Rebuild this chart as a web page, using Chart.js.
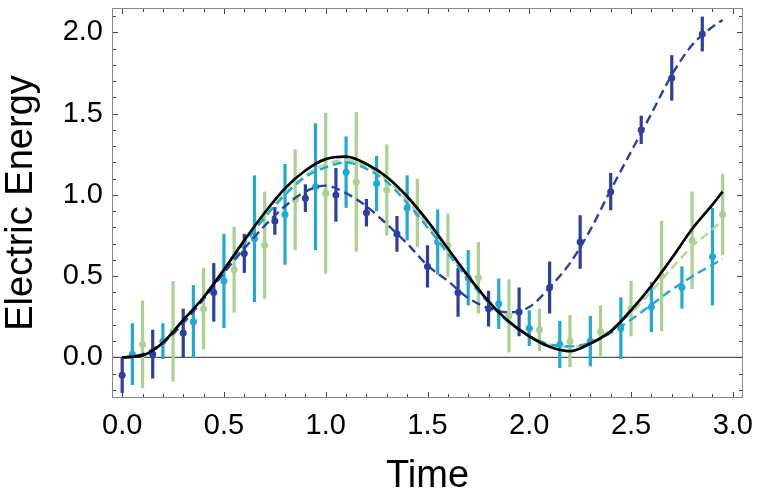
<!DOCTYPE html>
<html>
<head>
<meta charset="utf-8">
<script src="https://cdn.jsdelivr.net/npm/chart.js@4.4.1/dist/chart.umd.min.js"></script>
<style>
  html, body { margin: 0; padding: 0; background: #fff; }
</style>
</head>
<body>
<canvas id="energyChart" width="758" height="497"></canvas>
<script>
// measured points (three runs), each with its error half-width
const blueX = [0, 0.15, 0.3, 0.45, 0.6, 0.75, 0.9, 1.05, 1.2, 1.35, 1.5, 1.65, 1.8, 1.95, 2.1, 2.25, 2.4, 2.55, 2.7, 2.85];
const blueY = [-0.11, 0.02, 0.15, 0.40, 0.64, 0.84, 0.98, 1.00, 0.89, 0.76, 0.56, 0.40, 0.30, 0.28, 0.43, 0.71, 1.02, 1.40, 1.72, 1.99];
const blueErr = [0.11, 0.15, 0.15, 0.18, 0.12, 0.085, 0.085, 0.165, 0.085, 0.11, 0.13, 0.15, 0.11, 0.15, 0.16, 0.165, 0.115, 0.087, 0.14, 0.107];

const cyanX = [0.05, 0.2, 0.35, 0.5, 0.65, 0.8, 0.95, 1.1, 1.25, 1.4, 1.55, 1.7, 1.85, 2.0, 2.15, 2.3, 2.45, 2.6, 2.75, 2.9];
const cyanY = [0.02, 0.10, 0.22, 0.47, 0.73, 0.88, 1.05, 1.14, 1.07, 0.92, 0.71, 0.49, 0.33, 0.18, 0.08, 0.10, 0.18, 0.31, 0.43, 0.62];
const cyanErr = [0.19, 0.11, 0.225, 0.29, 0.39, 0.31, 0.39, 0.22, 0.17, 0.2, 0.2, 0.17, 0.155, 0.11, 0.145, 0.155, 0.19, 0.155, 0.13, 0.30];

const greenX = [0.1, 0.25, 0.4, 0.55, 0.7, 0.85, 1.0, 1.15, 1.3, 1.45, 1.6, 1.75, 1.9, 2.05, 2.2, 2.35, 2.5, 2.65, 2.8, 2.95];
const greenY = [0.08, 0.16, 0.30, 0.54, 0.69, 0.97, 1.01, 1.08, 1.03, 0.89, 0.69, 0.49, 0.255, 0.17, 0.10, 0.16, 0.30, 0.50, 0.72, 0.88];
const greenErr = [0.27, 0.31, 0.25, 0.265, 0.33, 0.31, 0.495, 0.43, 0.28, 0.21, 0.195, 0.22, 0.225, 0.13, 0.16, 0.16, 0.17, 0.34, 0.30, 0.25];

const curveX = [0, 0.1, 0.2, 0.3, 0.4, 0.5, 0.6, 0.7, 0.8, 0.9, 1.0, 1.1, 1.2, 1.3, 1.4, 1.5,
  1.6, 1.7, 1.8, 1.9, 2.0, 2.1, 2.2, 2.3, 2.4, 2.5, 2.6, 2.7, 2.8, 2.9, 2.95];
const theoryY = [0, 0.012, 0.09, 0.23, 0.37, 0.54, 0.72, 0.89, 1.04, 1.15, 1.22, 1.235, 1.19, 1.11, 0.99, 0.84,
  0.67, 0.50, 0.345, 0.22, 0.13, 0.065, 0.038, 0.085, 0.16, 0.29, 0.44, 0.61, 0.79, 0.94, 1.02];
const blueFitY = [0, 0.02, 0.09, 0.21, 0.36, 0.52, 0.67, 0.81, 0.93, 1.02, 1.057, 1.01, 0.93, 0.82, 0.70, 0.566,
  0.47, 0.365, 0.304, 0.277, 0.31, 0.43, 0.58, 0.785, 1.03, 1.266, 1.50, 1.738, 1.922, 2.034, 2.076];
const cyanFitY = [0, 0.012, 0.09, 0.22, 0.36, 0.53, 0.70, 0.86, 1.00, 1.11, 1.17, 1.20, 1.16, 1.08, 0.95, 0.80,
  0.64, 0.48, 0.335, 0.215, 0.13, 0.08, 0.068, 0.09, 0.15, 0.232, 0.324, 0.416, 0.498, 0.570, 0.605];
const greenFitY = [0, 0.012, 0.09, 0.22, 0.365, 0.535, 0.705, 0.865, 1.01, 1.12, 1.19, 1.215, 1.175, 1.095, 0.965, 0.815,
  0.65, 0.49, 0.34, 0.22, 0.13, 0.078, 0.065, 0.088, 0.17, 0.273, 0.406, 0.549, 0.682, 0.789, 0.846];

const xTickValues = [0, 0.5, 1.0, 1.5, 2.0, 2.5, 3.0];
const yTickValues = [0, 0.5, 1.0, 1.5, 2.0];

const BLUE = '#2b3fa3';
const CYAN = '#1eaad3';
const GREEN = '#a9d18f';
const FONT = "'Liberation Sans', Arial, sans-serif";

const toPoints = (xs, ys) => xs.map((x, i) => ({ x: x, y: ys[i] }));

const errorSeries = [
  { x: greenX, y: greenY, err: greenErr, color: GREEN },
  { x: cyanX, y: cyanY, err: cyanErr, color: CYAN },
  { x: blueX, y: blueY, err: blueErr, color: BLUE },
];

const errorBars = {
  id: 'errorBars',
  beforeDatasetsDraw(chart) {
    const { ctx, chartArea: a, scales: { x, y } } = chart;
    ctx.save();
    ctx.beginPath();
    ctx.rect(a.left, a.top, a.width, a.height);
    ctx.clip();
    // zero line
    const y0 = y.getPixelForValue(0);
    ctx.strokeStyle = '#555';
    ctx.lineWidth = 1.2;
    ctx.beginPath();
    ctx.moveTo(a.left, y0);
    ctx.lineTo(a.right, y0);
    ctx.stroke();
    ctx.lineWidth = 3.2;
    errorSeries.forEach(s => {
      ctx.strokeStyle = s.color;
      s.x.forEach((xv, i) => {
        const px = x.getPixelForValue(xv);
        ctx.beginPath();
        ctx.moveTo(px, y.getPixelForValue(s.y[i] - s.err[i]));
        ctx.lineTo(px, y.getPixelForValue(s.y[i] + s.err[i]));
        ctx.stroke();
      });
    });
    ctx.restore();
  }
};

// box frame with inward ticks on all four sides
const frameTicks = {
  id: 'frameTicks',
  afterDraw(chart) {
    const { ctx, chartArea: a, scales: { x, y } } = chart;
    ctx.save();
    ctx.strokeStyle = '#444';
    ctx.lineWidth = 1;
    for (let k = -5; k <= 31; k++) {
      const v = k / 10;
      if (v < x.min || v > x.max) continue;
      const px = Math.round(x.getPixelForValue(v)) + 0.5;
      const len = k % 5 === 0 ? 6 : 4;
      ctx.beginPath();
      ctx.moveTo(px, a.bottom); ctx.lineTo(px, a.bottom - len);
      ctx.moveTo(px, a.top); ctx.lineTo(px, a.top + len);
      ctx.stroke();
    }
    for (let k = -3; k <= 22; k++) {
      const v = k / 10;
      if (v < y.min || v > y.max) continue;
      const py = Math.round(y.getPixelForValue(v)) + 0.5;
      const len = k % 5 === 0 ? 6 : 4;
      ctx.beginPath();
      ctx.moveTo(a.left, py); ctx.lineTo(a.left + len, py);
      ctx.moveTo(a.right, py); ctx.lineTo(a.right - len, py);
      ctx.stroke();
    }
    ctx.strokeStyle = '#888';
    ctx.strokeRect(a.left + 0.5, a.top + 0.5, a.width - 1, a.height - 1);
    ctx.restore();
  }
};

const lineSet = (data, color, width, dash) => ({
  data: data,
  showLine: true,
  borderColor: color,
  borderWidth: width,
  borderDash: dash,
  pointRadius: 0,
  cubicInterpolationMode: 'monotone',
  fill: false,
});

const pointSet = (data, color) => ({
  data: data,
  showLine: false,
  backgroundColor: color,
  borderColor: color,
  borderWidth: 0,
  pointRadius: 3.5,
});

new Chart(document.getElementById('energyChart').getContext('2d'), {
  type: 'scatter',
  data: {
    datasets: [
      lineSet(toPoints(curveX, theoryY), '#000', 2.7, []),
      lineSet(toPoints(curveX, blueFitY), BLUE, 2.4, [9, 5]),
      lineSet(toPoints(curveX, cyanFitY), CYAN, 2.4, [9, 5]),
      lineSet(toPoints(curveX, greenFitY), '#b2d89b', 2.4, [9, 5]),
      pointSet(toPoints(blueX, blueY), BLUE),
      pointSet(toPoints(cyanX, cyanY), CYAN),
      pointSet(toPoints(greenX, greenY), GREEN),
    ]
  },
  options: {
    responsive: false,
    animation: false,
    devicePixelRatio: 1,
    layout: { padding: { left: 0, top: 8, right: 15, bottom: 0 } },
    plugins: {
      legend: { display: false },
      tooltip: { enabled: false },
    },
    scales: {
      x: {
        type: 'linear',
        min: -0.05,
        max: 3.05,
        afterBuildTicks: s => { s.ticks = xTickValues.map(v => ({ value: v })); },
        afterFit: s => { s.height = 99; s.paddingLeft = 0; s.paddingRight = 0; },
        grid: { display: false, drawTicks: false },
        border: { display: false },
        ticks: {
          padding: 11,
          color: '#000',
          maxRotation: 0,
          autoSkip: false,
          font: { family: FONT, size: 29 },
          callback: v => Number(v).toFixed(1),
        },
        title: {
          display: true,
          text: 'Time',
          color: '#000',
          font: { family: FONT, size: 38 },
          padding: { top: 0, bottom: -2 },
        },
      },
      y: {
        type: 'linear',
        min: -0.25,
        max: 2.15,
        afterBuildTicks: s => { s.ticks = yTickValues.map(v => ({ value: v })); },
        afterFit: s => { s.width = 112; s.paddingTop = 0; s.paddingBottom = 0; },
        grid: { display: false, drawTicks: false },
        border: { display: false },
        ticks: {
          padding: 9,
          color: '#000',
          font: { family: FONT, size: 29 },
          callback: v => Number(v).toFixed(1),
        },
        title: {
          display: true,
          text: 'Electric Energy',
          color: '#000',
          font: { family: FONT, size: 38 },
          padding: { top: -1, bottom: 0 },
        },
      },
    },
  },
  plugins: [errorBars, frameTicks],
});
</script>
</body>
</html>
